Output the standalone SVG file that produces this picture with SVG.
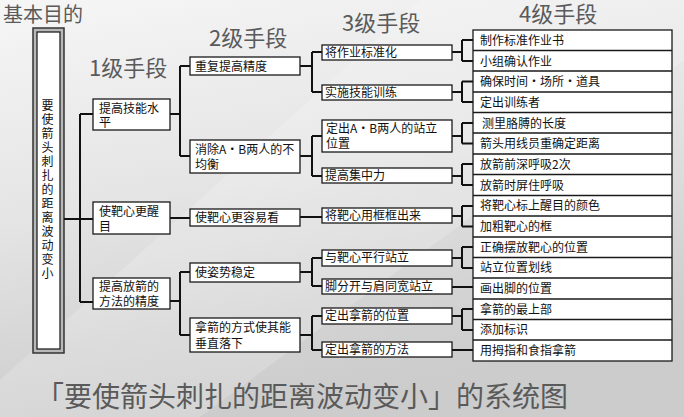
<svg xmlns="http://www.w3.org/2000/svg" width="684" height="417" viewBox="0 0 684 417">
<defs>
<linearGradient id="bg" x1="0" y1="0" x2="0.3" y2="1">
<stop offset="0" stop-color="#f6f6f6"/>
<stop offset="0.5" stop-color="#e4e4e4"/>
<stop offset="0.85" stop-color="#d2d2d2"/>
<stop offset="1" stop-color="#cccccc"/>
</linearGradient>
<style>
.hd{font-family:"Noto Sans CJK SC","Noto Sans",sans-serif;fill:#5a5a5a;}
.bx{fill:#ffffff;stroke:#1a1a1a;stroke-width:1.3;}
.t{font-family:"Noto Sans CJK SC","Noto Sans",sans-serif;font-size:12px;fill:#111;}
.c{fill:none;stroke:#111;stroke-width:2;}
.sep{stroke:#1a1a1a;stroke-width:1.3;}
</style>
</defs>
<rect x="0" y="0" width="684" height="417" fill="url(#bg)"/>
<polygon points="420,0 684,0 684,60 200,417 0,417 0,380" fill="#ffffff" opacity="0.18"/>

<text class="hd" x="3" y="22" font-size="20">基本目的</text>
<text class="hd" x="89" y="76" font-size="22">1级手段</text>
<text class="hd" x="209" y="46" font-size="22">2级手段</text>
<text class="hd" x="342" y="31" font-size="22">3级手段</text>
<text class="hd" x="519" y="22" font-size="22">4级手段</text>
<text class="hd" x="36" y="407" font-size="28" fill="#444">「要使箭头刺扎的距离波动变小」的系统图</text>

<g id="goal">
<rect x="33" y="28" width="31" height="325" fill="#b8b8b8" stroke="#333" stroke-width="1.5"/>
<rect x="37" y="32" width="23" height="317" fill="#fff" stroke="#222" stroke-width="1.3"/>
<text class="t" font-size="14" text-anchor="middle">
<tspan x="47.5" y="110">要</tspan><tspan x="47.5" y="124">使</tspan><tspan x="47.5" y="138">箭</tspan><tspan x="47.5" y="152">头</tspan><tspan x="47.5" y="166">刺</tspan><tspan x="47.5" y="180">扎</tspan><tspan x="47.5" y="194">的</tspan><tspan x="47.5" y="208">距</tspan><tspan x="47.5" y="222">离</tspan><tspan x="47.5" y="236">波</tspan><tspan x="47.5" y="250">动</tspan><tspan x="47.5" y="264">变</tspan><tspan x="47.5" y="278">小</tspan>
</text>
</g>

<g id="connectors">
<path class="c" d="M64,219 H93 M80,114 V302 M80,114 H93 M80,302 H93"/>
<path class="c" d="M170,114 H180 M180,66 V156 M180,66 H190 M180,156 H190 M170,218 H190 M170,301 H180 M180,272 V335 M180,272 H190 M180,335 H190"/>
<path class="c" d="M300,66 H312 M312,52 V92 M312,52 H322 M312,92 H322 M300,156 H312 M312,136 V176 M312,136 H322 M312,176 H322 M300,217 H322 M300,272 H312 M312,258 V286 M312,258 H322 M312,286 H322 M300,335 H312 M312,316 V350 M312,316 H322 M312,350 H322"/>
<path class="c" d="M452,52 H462 M462,40 V61 M462,40 H473 M462,61 H473 M452,92 H462 M462,81.5 V102 M462,81.5 H473 M462,102 H473 M452,136 H462 M462,123 V143.5 M462,123 H473 M462,143.5 H473 M452,176 H462 M462,164 V185 M462,164 H473 M462,185 H473 M452,216 H462 M462,206 V226.5 M462,206 H473 M462,226.5 H473 M452,258 H462 M462,247 V268 M462,247 H473 M462,268 H473 M452,287 H473 M452,316 H462 M462,309 V330 M462,309 H473 M462,330 H473 M452,350 H473"/>
</g>

<g id="l1a"><rect class="bx" x="93" y="99" width="77" height="31"/><text class="t"><tspan x="99" y="113">提高技能水</tspan><tspan x="99" y="127">平</tspan></text></g>
<g id="l1b"><rect class="bx" x="93" y="202" width="77" height="32"/><text class="t"><tspan x="99" y="216">使靶心更醒</tspan><tspan x="99" y="231">目</tspan></text></g>
<g id="l1c"><rect class="bx" x="93" y="278" width="77" height="31"/><text class="t"><tspan x="99" y="291">提高放箭的</tspan><tspan x="99" y="306">方法的精度</tspan></text></g>

<g id="l2a"><rect class="bx" x="190" y="57" width="110" height="18"/><text class="t" x="195" y="71">重复提高精度</text></g>
<g id="l2b"><rect class="bx" x="190" y="140" width="110" height="33"/><text class="t"><tspan x="195" y="154">消除A·B两人的不</tspan><tspan x="195" y="169">均衡</tspan></text></g>
<g id="l2c"><rect class="bx" x="190" y="209" width="110" height="17"/><text class="t" x="195" y="222">使靶心更容易看</text></g>
<g id="l2d"><rect class="bx" x="190" y="263" width="110" height="19"/><text class="t" x="195" y="277">使姿势稳定</text></g>
<g id="l2e"><rect class="bx" x="190" y="318" width="110" height="34"/><text class="t"><tspan x="195" y="332">拿箭的方式使其能</tspan><tspan x="195" y="348">垂直落下</tspan></text></g>

<g id="l3a"><rect class="bx" x="322" y="45" width="130" height="15"/><text class="t" x="325" y="57">将作业标准化</text></g>
<g id="l3b"><rect class="bx" x="322" y="85" width="130" height="15"/><text class="t" x="325" y="97">实施技能训练</text></g>
<g id="l3c"><rect class="bx" x="322" y="120" width="130" height="32"/><text class="t"><tspan x="326" y="133">定出A·B两人的站立</tspan><tspan x="326" y="148">位置</tspan></text></g>
<g id="l3d"><rect class="bx" x="322" y="168" width="130" height="15"/><text class="t" x="325" y="180">提高集中力</text></g>
<g id="l3e"><rect class="bx" x="322" y="208" width="130" height="15"/><text class="t" x="325" y="220">将靶心用框框出来</text></g>
<g id="l3f"><rect class="bx" x="322" y="250" width="130" height="16"/><text class="t" x="325" y="262">与靶心平行站立</text></g>
<g id="l3g"><rect class="bx" x="322" y="279" width="130" height="15"/><text class="t" x="325" y="291">脚分开与肩同宽站立</text></g>
<g id="l3h"><rect class="bx" x="322" y="308" width="130" height="16"/><text class="t" x="325" y="320">定出拿箭的位置</text></g>
<g id="l3i"><rect class="bx" x="322" y="342" width="130" height="15"/><text class="t" x="325" y="354">定出拿箭的方法</text></g>

<g id="l4">
<rect class="bx" x="473" y="30" width="199" height="331"/>
<path class="sep" d="M473,50.5 H672 M473,71 H672 M473,92 H672 M473,112.5 H672 M473,133 H672 M473,154 H672 M473,174.5 H672 M473,195.5 H672 M473,216 H672 M473,237 H672 M473,257.5 H672 M473,278 H672 M473,299 H672 M473,319.5 H672 M473,340 H672"/>
</g>
<g id="l4-01"><text class="t" x="480" y="45">制作标准作业书</text></g>
<g id="l4-02"><text class="t" x="480" y="66">小组确认作业</text></g>
<g id="l4-03"><text class="t" x="480" y="86">确保时间・场所・道具</text></g>
<g id="l4-04"><text class="t" x="480" y="107">定出训练者</text></g>
<g id="l4-05"><text class="t" x="482" y="128">测里胳膊的长度</text></g>
<g id="l4-06"><text class="t" x="480" y="148">箭头用线员重确定距离</text></g>
<g id="l4-07"><text class="t" x="480" y="169">放箭前深呼吸2次</text></g>
<g id="l4-08"><text class="t" x="480" y="190">放箭时屏住呼吸</text></g>
<g id="l4-09"><text class="t" x="480" y="210">将靶心标上醒目的颜色</text></g>
<g id="l4-10"><text class="t" x="480" y="231">加粗靶心的框</text></g>
<g id="l4-11"><text class="t" x="480" y="252">正确摆放靶心的位置</text></g>
<g id="l4-12"><text class="t" x="480" y="272">站立位置划线</text></g>
<g id="l4-13"><text class="t" x="480" y="293">画出脚的位置</text></g>
<g id="l4-14"><text class="t" x="480" y="314">拿箭的最上部</text></g>
<g id="l4-15"><text class="t" x="480" y="334">添加标识</text></g>
<g id="l4-16"><text class="t" x="480" y="355">用拇指和食指拿箭</text></g>
</svg>
